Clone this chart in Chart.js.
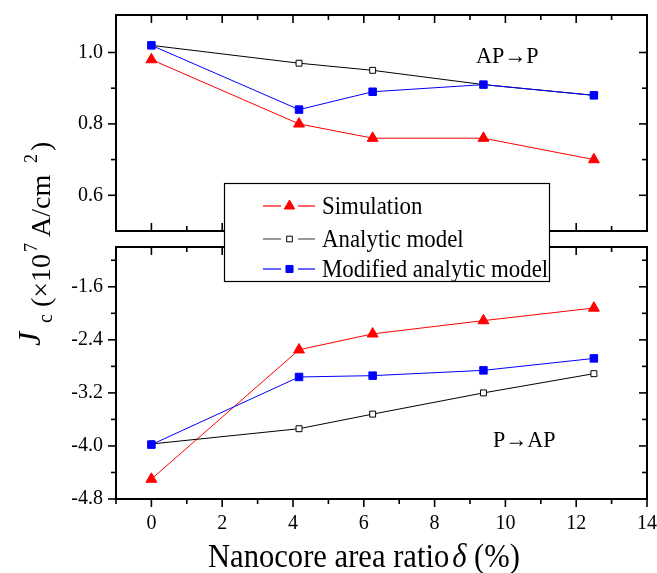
<!DOCTYPE html>
<html><head><meta charset="utf-8">
<script src="https://cdn.jsdelivr.net/npm/chart.js@4.4.1/dist/chart.umd.min.js"></script>
<style>
html,body{margin:0;padding:0;background:#fff;}
#wrap{position:relative;width:657px;height:573px;background:#fff;}
canvas{position:absolute;left:0;top:0;}
</style></head><body>
<div id="wrap"><canvas id="cTop" width="657" height="573"></canvas><canvas id="cBot" width="657" height="573"></canvas></div>
<script>
// ---- data ----
const xRatio = [0, 4.17, 6.25, 9.38, 12.5];
const seriesNames = ['Simulation', 'Analytic model', 'Modified analytic model'];
const apSim = [0.98, 0.80, 0.76, 0.76, 0.70];
const apAna = [1.02, 0.97, 0.95, 0.91, 0.88];
const apMod = [1.02, 0.84, 0.89, 0.91, 0.88];
const paSim = [-4.50, -2.55, -2.31, -2.11, -1.92];
const paAna = [-3.97, -3.74, -3.52, -3.20, -2.91];
const paMod = [-3.98, -2.96, -2.94, -2.86, -2.68];
const xMajor = [0, 2, 4, 6, 8, 10, 12, 14];
const xMinor = [-1, 1, 3, 5, 7, 9, 11, 13];
const topMajor = [0.6, 0.8, 1.0];
const topMinor = [0.7, 0.9];
const botMajor = [-1.6, -2.4, -3.2, -4.0, -4.8];
const botMinor = [-1.2, -2.0, -2.8, -3.6, -4.4];
const panelLabels = ['AP\u2192P', 'P\u2192AP'];
const xTitle = ['Nanocore area ratio', '\u03B4', ' (%)'];

const SERIF = '"Liberation Serif", "Times New Roman", serif';
const RED = '#ff0000', BLUE = '#0000ff', BLACK = '#000000';

function ds(label, ys, color, style, r, bg, order) {
  return {
    label, data: xRatio.map((x, i) => ({x, y: ys[i]})),
    borderColor: color, backgroundColor: bg, borderWidth: 1,
    pointStyle: style, pointRadius: r, pointHoverRadius: r,
    pointBorderColor: color, pointBackgroundColor: bg, pointBorderWidth: 1,
    showLine: true, tension: 0, order, clip: false
  };
}

function txt(ctx, s, x, y, font, sx) {
  ctx.save();
  ctx.font = font;
  ctx.textBaseline = 'alphabetic';
  ctx.textAlign = 'left';
  ctx.translate(x, y);
  ctx.scale(sx || 1, 1);
  ctx.fillText(s, 0, 0);
  const w = ctx.measureText(s).width * (sx || 1);
  ctx.restore();
  return w;
}

function noPad(s) { s.paddingTop = 0; s.paddingBottom = 0; s.paddingLeft = 0; s.paddingRight = 0; }

function frame(chart, yMajor, yMinor, bottomOut) {
  const {ctx, chartArea: a, scales: {x, y}} = chart;
  ctx.save();
  ctx.strokeStyle = '#000';
  ctx.lineWidth = 2;
  ctx.strokeRect(a.left, a.top, a.right - a.left, a.bottom - a.top);
  ctx.lineWidth = 1.6;
  const seg = (x1, y1, x2, y2) => { ctx.beginPath(); ctx.moveTo(x1, y1); ctx.lineTo(x2, y2); ctx.stroke(); };
  const doX = (vals, L) => vals.forEach(v => {
    const p = x.getPixelForValue(v);
    seg(p, a.top, p, a.top + L);
    if (bottomOut) seg(p, a.bottom, p, a.bottom + L); else seg(p, a.bottom, p, a.bottom - L);
  });
  const doY = (vals, L) => vals.forEach(v => {
    const p = y.getPixelForValue(v);
    seg(a.left - L, p, a.left, p);
    seg(a.right, p, a.right - L, p);
  });
  doX(xMajor, 8); doX(xMinor, 5);
  doY(yMajor, 8); doY(yMinor, 5);
  ctx.restore();
}

function yScale(min, max, major) {
  return {
    type: 'linear', min, max, position: 'left',
    afterBuildTicks: s => { s.ticks = major.map(v => ({value: v})); },
    afterFit: s => { s.width = 116; noPad(s); },
    grid: {display: false, drawTicks: false},
    border: {display: false},
    ticks: {font: {family: SERIF, size: 20}, color: '#000', padding: 13, autoSkip: false,
            callback: v => Number(v).toFixed(1)}
  };
}

const common = {
  responsive: false, animation: false, devicePixelRatio: 1, events: [],
  plugins: {legend: {display: false}, tooltip: {enabled: false}}
};

// ---- top panel (AP -> P) ----
new Chart(document.getElementById('cTop'), {
  type: 'line',
  data: {datasets: [
    ds(seriesNames[0], apSim, RED, 'triangle', 6.3, RED, 2),
    ds(seriesNames[1], apAna, BLACK, 'rect', 4.2, '#ffffff', 1),
    ds(seriesNames[2], apMod, BLUE, 'rect', 5.3, BLUE, 0)
  ]},
  options: Object.assign({}, common, {
    layout: {autoPadding: false, padding: {left: 0, right: 10, top: 15, bottom: 342}},
    scales: {
      x: {type: 'linear', min: -1, max: 14, display: false, afterFit: noPad},
      y: yScale(0.5, 1.105, topMajor)
    }
  }),
  plugins: [{
    id: 'frameTop',
    afterDraw(chart) {
      frame(chart, topMajor, topMinor, false);
      chart.ctx.fillStyle = '#000';
      txt(chart.ctx, panelLabels[0], 476, 63, '24px ' + SERIF, 0.92);
    }
  }]
});

// ---- bottom panel (P -> AP) ----
new Chart(document.getElementById('cBot'), {
  type: 'line',
  data: {datasets: [
    ds(seriesNames[0], paSim, RED, 'triangle', 6.3, RED, 2),
    ds(seriesNames[1], paAna, BLACK, 'rect', 4.2, '#ffffff', 1),
    ds(seriesNames[2], paMod, BLUE, 'rect', 5.3, BLUE, 0)
  ]},
  options: Object.assign({}, common, {
    layout: {autoPadding: false, padding: {left: 0, right: 10, top: 247, bottom: 0}},
    scales: {
      x: {
        type: 'linear', min: -1, max: 14, position: 'bottom',
        afterBuildTicks: s => { s.ticks = xMajor.map(v => ({value: v})); },
        afterFit: s => { s.height = 74; noPad(s); },
        grid: {display: false, drawTicks: false},
        border: {display: false},
        ticks: {font: {family: SERIF, size: 20}, color: '#000', padding: 13, autoSkip: false,
                maxRotation: 0, callback: v => String(v)}
      },
      y: yScale(-4.8, -1.0, botMajor)
    }
  }),
  plugins: [{
    id: 'frameBot',
    afterDraw(chart) {
      const ctx = chart.ctx;
      frame(chart, botMajor, botMinor, true);
      ctx.fillStyle = '#000';
      txt(ctx, panelLabels[1], 493, 447, '24px ' + SERIF, 0.92);

      // legend box
      ctx.save();
      ctx.fillStyle = '#fff';
      ctx.fillRect(224, 183, 325, 98);
      ctx.strokeStyle = '#000'; ctx.lineWidth = 1.2;
      ctx.strokeRect(224.5, 183.5, 325, 98);
      const rows = [
        {y: 206, line: RED, stroke: RED, fill: RED, style: 'triangle', r: 6},
        {y: 239, line: '#555555', stroke: BLACK, fill: '#ffffff', style: 'rect', r: 4},
        {y: 269, line: BLUE, stroke: BLUE, fill: BLUE, style: 'rect', r: 5}
      ];
      rows.forEach((row, i) => {
        ctx.strokeStyle = row.line; ctx.lineWidth = 1.2;
        ctx.beginPath(); ctx.moveTo(263, row.y); ctx.lineTo(281, row.y); ctx.stroke();
        ctx.beginPath(); ctx.moveTo(298, row.y); ctx.lineTo(315, row.y); ctx.stroke();
        ctx.fillStyle = row.fill; ctx.strokeStyle = row.stroke; ctx.lineWidth = 1;
        Chart.helpers.drawPoint(ctx, {pointStyle: row.style, radius: row.r, rotation: 0, borderWidth: 1}, 289.5, row.y);
        ctx.fillStyle = '#000';
        txt(ctx, seriesNames[i], 322, row.y + 7.5, '26px ' + SERIF, 0.88);
      });
      ctx.restore();

      // x title
      ctx.fillStyle = '#000';
      let xx = 208;
      xx += txt(ctx, xTitle[0], xx, 567, '34px ' + SERIF, 0.9);
      xx += 3;
      xx += txt(ctx, xTitle[1], xx, 567, 'italic 34px ' + SERIF, 0.9);
      txt(ctx, xTitle[2], xx, 567, '34px ' + SERIF, 0.9);

      // y title (rotated)
      const pieces = [
        {t: 'J', f: 'italic 32px ' + SERIF, off: 4, base: 40},
        {t: 'c', f: '20px ' + SERIF, off: 27, base: 52},
        {t: '(\u00D710', f: '28px ' + SERIF, off: 43, base: 50},
        {t: '7', f: '18px ' + SERIF, off: 98, base: 37},
        {t: 'A/cm', f: '28px ' + SERIF, off: 113, base: 50},
        {t: '2', f: '18px ' + SERIF, off: 187, base: 37},
        {t: ')', f: '28px ' + SERIF, off: 199, base: 50}
      ];
      pieces.forEach(p => {
        ctx.save();
        ctx.translate(p.base, 350 - p.off);
        ctx.rotate(-Math.PI / 2);
        ctx.font = p.f; ctx.fillStyle = '#000'; ctx.textBaseline = 'alphabetic';
        ctx.fillText(p.t, 0, 0);
        ctx.restore();
      });
    }
  }]
});
</script>
</body></html>
